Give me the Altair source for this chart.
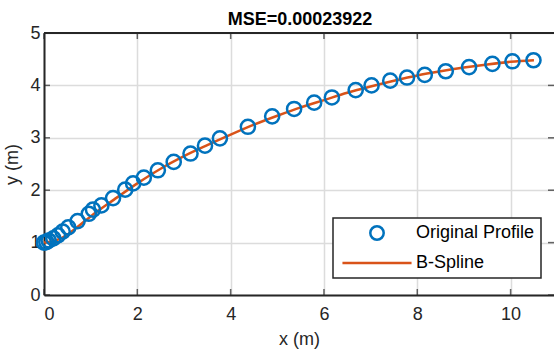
import altair as alt
import pandas as pd

# Original profile samples
orig_x = [0.0, 0.05, 0.1, 0.2, 0.3, 0.4, 0.52, 0.72, 0.96, 1.05, 1.23, 1.48, 1.74, 1.91,
          2.14, 2.44, 2.78, 3.14, 3.45, 3.77, 4.37, 4.89, 5.36, 5.79, 6.17, 6.68, 7.02,
          7.42, 7.78, 8.16, 8.61, 9.11, 9.61, 10.04, 10.49]
orig_y = [1.0, 1.01, 1.04, 1.08, 1.14, 1.21, 1.29, 1.41, 1.55, 1.63, 1.71, 1.85, 2.01, 2.13,
          2.24, 2.38, 2.54, 2.70, 2.85, 2.99, 3.21, 3.41, 3.55, 3.67, 3.77, 3.91, 4.00,
          4.09, 4.15, 4.20, 4.27, 4.35, 4.41, 4.46, 4.48]

# B-spline curve
spl_x = [0.0, 0.25, 0.5, 0.75, 1.0, 1.5, 2.0, 2.5, 3.0, 3.5, 4.0, 4.5, 5.0, 5.5, 6.0,
         6.5, 7.0, 7.5, 8.0, 8.5, 9.0, 9.5, 10.0, 10.5]
spl_y = [1.0, 1.04, 1.15, 1.32, 1.50, 1.82, 2.13, 2.41, 2.65, 2.86, 3.06, 3.25, 3.42,
         3.58, 3.72, 3.86, 3.98, 4.09, 4.19, 4.27, 4.34, 4.40, 4.45, 4.48]

series = ["Original Profile", "B-Spline"]
colors = ["#0072BD", "#D95319"]
x_ticks = [0, 2, 4, 6, 8, 10]
y_ticks = [0, 1, 2, 3, 4, 5]
title_text = "MSE=0.00023922"

W, H = 510, 262
FONT = "Liberation Sans"
INK = "#262626"

df = pd.concat([
    pd.DataFrame({"x": orig_x, "y": orig_y, "series": series[0]}),
    pd.DataFrame({"x": spl_x, "y": spl_y, "series": series[1]}),
])

xs = alt.Scale(domain=[0, 10.93], nice=False, zero=False)
ys = alt.Scale(domain=[0, 5], nice=False, zero=False)

xax = alt.Axis(values=x_ticks, title="x (m)", labelPadding=10, titlePadding=7, format="d")
yax = alt.Axis(values=y_ticks, title="y (m)", labelPadding=4, titlePadding=8, format="d")

leg = alt.Legend(title=None, orient="none", legendX=289, legendY=185)
color = alt.Color("series:N", scale=alt.Scale(domain=series, range=colors), legend=leg)
shape = alt.Shape("series:N", scale=alt.Scale(domain=series, range=["circle", "M-5.15,0H5.15"]),
                  legend=leg)

base = alt.Chart(df)

pts = base.transform_filter(alt.datum.series == series[0]).mark_point(
    filled=False, size=200, strokeWidth=2.5, opacity=1
).encode(x=alt.X("x:Q", scale=xs, axis=xax), y=alt.Y("y:Q", scale=ys, axis=yax),
         color=color, shape=shape)

line = base.transform_filter(alt.datum.series == series[1]).mark_line(
    strokeWidth=2.5, interpolate="monotone"
).encode(x=alt.X("x:Q", scale=xs), y=alt.Y("y:Q", scale=ys), color=color, order="x:Q")

xt = pd.DataFrame({"v": x_ticks})
yt = pd.DataFrame({"v": y_ticks})
tick_bot = alt.Chart(xt).mark_tick(orient="vertical", size=6, thickness=1.5, color=INK).encode(
    x=alt.X("v:Q", scale=xs), y=alt.value(H - 3))
tick_top = alt.Chart(xt).mark_tick(orient="vertical", size=6, thickness=1.5, color=INK).encode(
    x=alt.X("v:Q", scale=xs), y=alt.value(3))
tick_l = alt.Chart(yt).mark_tick(orient="horizontal", size=6, thickness=1.5, color=INK).encode(
    y=alt.Y("v:Q", scale=ys), x=alt.value(3))
tick_r = alt.Chart(yt).mark_tick(orient="horizontal", size=6, thickness=1.5, color=INK).encode(
    y=alt.Y("v:Q", scale=ys), x=alt.value(W - 3))
top_border = alt.Chart(pd.DataFrame({"v": [5]})).mark_rule(color=INK, strokeWidth=2).encode(
    y=alt.Y("v:Q", scale=ys))

title_mark = alt.Chart(pd.DataFrame({"t": [title_text]})).mark_text(
    font=FONT, fontSize=18, fontWeight="bold", color="black", align="center", baseline="bottom"
).encode(text="t:N", x=alt.value(W / 2 + 1), y=alt.value(-4))

chart = alt.layer(top_border, tick_bot, tick_top, tick_l, tick_r, line, pts, title_mark).properties(
    width=W, height=H,
    autosize=alt.AutoSizeParams(type="none"),
    padding={"left": 44, "top": 33, "right": 0, "bottom": 55},
).configure_view(stroke=None).configure_axis(
    labelFont=FONT, titleFont=FONT, labelFontSize=18, titleFontSize=18,
    labelColor=INK, titleColor=INK, titleFontWeight="normal",
    tickSize=0, domainColor=INK, domainWidth=2,
    gridColor="#dcdcdc", gridWidth=1.5,
).configure_legend(
    fillColor="white", strokeColor=INK, strokeWidth=1.5, cornerRadius=0,
    padding=6, symbolOffset=29, labelOffset=30, rowPadding=9, symbolSize=180,
    symbolStrokeWidth=2.5, symbolFillColor="transparent",
    labelFontSize=18, labelFont=FONT, labelColor="black", labelLimit=300,
)

chart.save("out.html", embed_options={"renderer": "svg", "actions": False})
